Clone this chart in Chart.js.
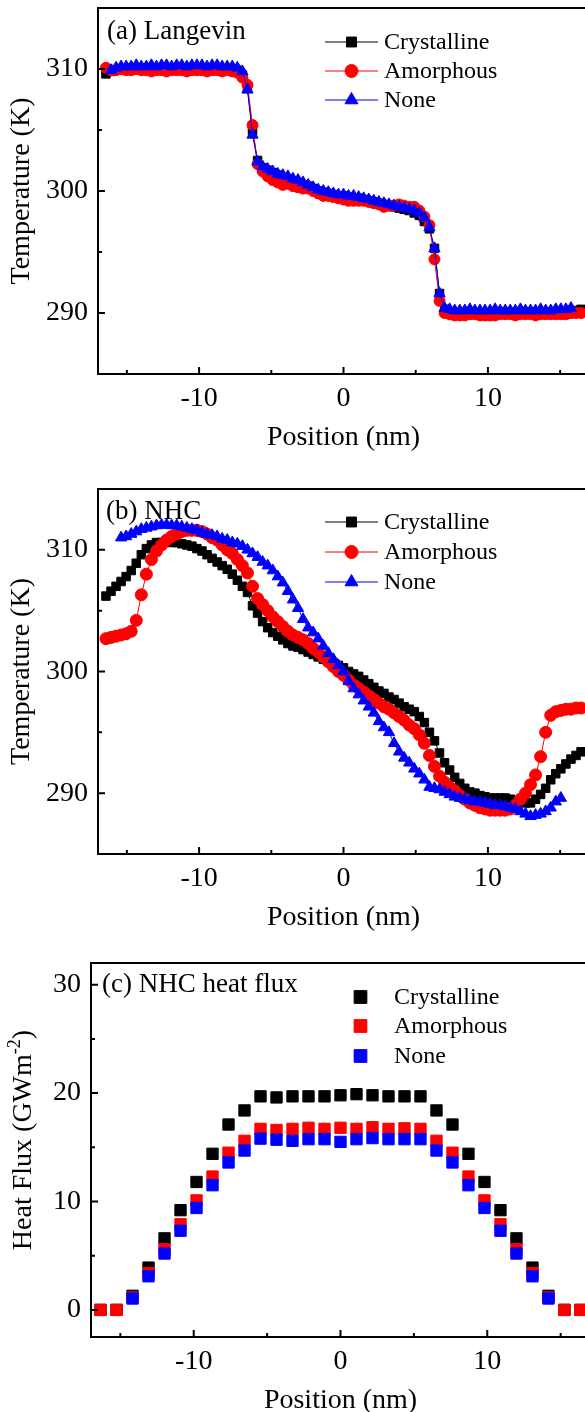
<!DOCTYPE html>
<html><head><meta charset="utf-8">
<script src="https://cdn.jsdelivr.net/npm/chart.js@4.4.1/dist/chart.umd.min.js"></script>
<style>
html,body{margin:0;padding:0;background:#fff;overflow:hidden;width:585px;height:1412px;}
#wrap{position:relative;width:585px;height:1412px;overflow:hidden;background:#fff;}
canvas{position:absolute;left:0;}
</style></head><body>
<div id="wrap">
<canvas id="ca" width="600" height="470" style="top:0px;width:600px;height:470px"></canvas>
<canvas id="cb" width="600" height="470" style="top:470px;width:600px;height:470px"></canvas>
<canvas id="cc" width="600" height="485" style="top:940px;width:600px;height:485px"></canvas>
</div>
<script>
// ---------- DATA ----------
const seriesNames = ['Crystalline', 'Amorphous', 'None'];
const positionNm = [
 -16.45,-16.10,-15.75,-15.40,-15.05,-14.70,-14.35,-14.00,-13.65,-13.30,
 -12.95,-12.60,-12.25,-11.90,-11.55,-11.20,-10.85,-10.50,-10.15,-9.80,
 -9.45,-9.10,-8.75,-8.40,-8.05,-7.70,-7.35,-7.00,-6.65,-6.30,
 -5.95,-5.60,-5.25,-4.90,-4.55,-4.20,-3.85,-3.50,-3.15,-2.80,
 -2.45,-2.10,-1.75,-1.40,-1.05,-0.70,-0.35,0.00,0.35,0.70,
 1.05,1.40,1.75,2.10,2.45,2.80,3.15,3.50,3.85,4.20,
 4.55,4.90,5.25,5.60,5.95,6.30,6.65,7.00,7.35,7.70,
 8.05,8.40,8.75,9.10,9.45,9.80,10.15,10.50,10.85,11.20,
 11.55,11.90,12.25,12.60,12.95,13.30,13.65,14.00,14.35,14.70,
 15.05,15.40,15.75,16.10,16.45];

// (a) Langevin
const langevinCrystalline = [
 309.6,309.8,309.9,310.0,310.0,310.1,310.0,310.1,310.1,310.0,
 310.1,310.1,310.0,310.1,310.1,310.1,310.0,310.1,310.1,310.1,
 310.0,310.1,310.1,310.0,310.0,310.0,309.9,309.5,308.4,304.9,
 302.5,301.9,301.7,301.5,301.3,301.1,301.0,300.8,300.7,300.5,
 300.4,300.2,300.0,299.9,299.8,299.7,299.6,299.6,299.5,299.4,
 299.4,299.3,299.2,299.1,299.0,298.9,298.8,298.7,298.6,298.5,
 298.4,298.2,298.0,297.5,296.9,295.3,291.6,290.3,290.1,290.0,
 290.0,290.0,290.1,290.0,290.0,289.9,290.0,290.0,290.0,290.1,
 290.0,290.0,290.0,290.1,290.0,290.0,290.0,290.0,290.1,290.0,
 290.0,289.9,290.1,290.2,290.3];
const langevinAmorphous = [
 310.1,309.9,309.9,310.0,309.9,309.9,310.0,309.9,309.9,309.8,
 309.9,309.9,309.8,309.9,309.9,309.9,309.8,309.9,309.9,309.9,
 309.8,309.9,309.9,309.8,309.9,309.8,309.7,309.3,308.7,305.4,
 302.2,301.6,301.2,300.9,300.7,300.5,300.6,300.4,300.3,300.2,
 300.2,300.0,299.8,299.6,299.6,299.5,299.4,299.3,299.2,299.2,
 299.2,299.2,299.1,299.0,298.9,298.7,298.8,298.8,298.9,298.8,
 298.7,298.7,298.4,297.9,297.2,294.4,291.0,290.0,289.9,289.8,
 289.8,289.8,289.9,289.9,289.8,289.8,289.8,289.8,289.9,289.9,
 289.9,289.8,289.9,289.9,289.9,289.8,289.9,289.9,289.9,289.9,
 289.9,289.9,290.0,290.0,290.0];
const langevinNone = [
 null,309.9,310.1,310.2,310.2,310.2,310.3,310.2,310.2,310.3,
 310.2,310.3,310.3,310.2,310.3,310.3,310.2,310.3,310.3,310.3,
 310.2,310.3,310.3,310.2,310.2,310.2,310.1,309.8,308.3,304.6,
 302.4,302.0,301.8,301.6,301.4,301.3,301.2,301.0,300.9,300.7,
 300.5,300.3,300.1,300.0,299.9,299.8,299.7,299.7,299.6,299.6,
 299.5,299.4,299.3,299.2,299.1,299.0,298.9,298.8,298.7,298.6,
 298.5,298.4,298.2,297.8,297.0,295.3,291.6,290.4,290.3,290.2,
 290.2,290.2,290.3,290.2,290.2,290.2,290.2,290.3,290.2,290.2,
 290.2,290.2,290.3,290.2,290.2,290.2,290.3,290.2,290.2,290.3,
 290.3,290.3,290.4,null,null];

// (b) NHC
const nhcCrystalline = [
 306.2,306.6,307.0,307.4,307.8,308.3,308.9,309.6,310.1,310.4,
 310.6,310.6,310.7,310.6,310.6,310.5,310.4,310.3,310.1,309.9,
 309.6,309.3,309.0,308.7,308.4,308.0,307.5,307.0,306.5,305.4,
 304.8,304.1,303.6,303.2,302.9,302.6,302.3,302.1,302.0,301.8,
 301.6,301.4,301.2,301.0,300.9,300.7,300.5,300.3,300.0,299.8,
 299.6,299.3,299.0,298.7,298.4,298.2,297.9,297.7,297.4,297.1,
 296.9,296.7,296.3,295.8,295.0,294.3,293.3,292.5,291.9,291.3,
 290.8,290.4,290.1,290.0,289.8,289.7,289.6,289.6,289.6,289.6,
 289.5,289.4,289.3,289.2,289.2,289.5,289.9,290.4,291.1,291.6,
 292.0,292.4,292.8,293.1,293.4];
const nhcAmorphous = [
 302.7,302.8,302.9,303.0,303.1,303.3,304.2,306.3,308.0,309.2,
 309.9,310.4,310.8,311.1,311.3,311.5,311.6,311.6,311.6,311.5,
 311.3,311.0,310.8,310.4,310.0,309.7,309.2,308.7,308.1,307.0,
 306.0,305.5,305.0,304.5,304.1,303.7,303.3,303.0,302.8,302.6,
 302.3,301.9,301.6,301.2,300.8,300.4,300.0,299.7,299.3,298.9,
 298.6,298.3,298.0,297.7,297.4,297.1,296.9,296.6,296.3,296.0,
 295.6,295.3,294.8,294.1,293.1,292.2,291.4,290.9,290.5,290.2,
 289.8,289.5,289.2,289.0,288.8,288.7,288.6,288.6,288.6,288.6,
 288.7,289.0,289.5,290.0,290.7,291.5,293.0,295.0,296.4,296.7,
 296.8,296.9,296.9,297.0,297.0];
const nhcNone = [
 null,null,null,311.0,311.1,311.3,311.5,311.7,311.8,311.9,
 312.0,312.05,312.05,312.0,312.0,311.9,311.8,311.7,311.6,311.4,
 311.3,311.2,311.1,310.9,310.8,310.6,310.5,310.3,310.0,309.7,
 309.4,309.0,308.7,308.3,307.8,307.3,306.6,305.9,305.2,304.3,
 303.6,303.2,302.7,302.1,301.5,301.0,300.5,300.0,299.2,298.6,
 298.1,297.6,297.1,296.6,295.9,295.4,295.0,294.1,293.4,292.9,
 292.5,292.0,291.6,291.1,290.5,290.4,290.3,290.1,289.9,289.7,
 289.6,289.5,289.4,289.3,289.3,289.2,289.1,289.0,289.0,288.9,
 288.8,288.7,288.5,288.3,288.1,288.2,288.3,288.5,288.8,289.3,
 289.6,null,null,null,null];

// (c) NHC heat flux
const fluxPosition = [
 -16.35,-15.26,-14.17,-13.08,-11.99,-10.90,-9.81,-8.72,-7.63,-6.54,
 -5.45,-4.36,-3.27,-2.18,-1.09,0,1.09,2.18,3.27,4.36,
 5.45,6.54,7.63,8.72,9.81,10.90,11.99,13.08,14.17,15.26,16.35];
const fluxCrystalline = [0,0,1.3,3.9,6.6,9.2,11.8,14.4,17.1,18.4,
 19.7,19.6,19.7,19.7,19.7,19.8,19.9,19.8,19.7,19.7,
 19.7,18.4,17.1,14.4,11.8,9.2,6.6,3.9,1.3,0,0];
const fluxAmorphous = [0,0,1.15,3.4,5.6,7.9,10.1,12.3,14.5,15.6,
 16.7,16.6,16.7,16.8,16.7,16.8,16.7,16.85,16.7,16.75,
 16.7,15.6,14.5,12.3,10.1,7.9,5.6,3.4,1.15,0,0];
const fluxNone = [null,null,1.05,3.1,5.2,7.3,9.4,11.5,13.6,14.7,
 15.8,15.7,15.6,15.75,15.75,15.5,15.75,15.85,15.75,15.75,
 15.75,14.7,13.6,11.5,9.4,7.3,5.2,3.1,1.05,null,null];

// ticks
const posTicks = [-10, 0, 10];
const posMinorTicks = [-15, -5, 5, 15];
const tempTicks = [290, 300, 310];
const tempMinorTicks = [295, 305];
const fluxTicks = [0, 10, 20, 30];
const fluxMinorTicks = [5, 15, 25];

// ---------- RENDER ----------
const FONT = '"Liberation Serif","Times New Roman",serif';
Chart.defaults.font.family = FONT;
Chart.defaults.color = '#000';
const colors = ['#000000', '#ff0000', '#0000ff'];
const styles = ['rect', 'circle', 'triangle'];

function pts(xs, ys) {
  return xs.map((x, i) => ({x: x, y: ys[i]})).filter(p => p.y !== null);
}

function drawMarker(ctx, style, x, y, r, color) {
  ctx.fillStyle = color; ctx.strokeStyle = color; ctx.lineWidth = 1;
  ctx.beginPath();
  if (style === 'rect') { const s = r * Math.SQRT1_2; ctx.rect(x - s, y - s, 2 * s, 2 * s); }
  else if (style === 'circle') { ctx.arc(x, y, r, 0, Math.PI * 2); }
  else {
    ctx.moveTo(x, y - r);
    ctx.lineTo(x + r * Math.sin(2 * Math.PI / 3), y - r * Math.cos(2 * Math.PI / 3));
    ctx.lineTo(x + r * Math.sin(4 * Math.PI / 3), y - r * Math.cos(4 * Math.PI / 3));
    ctx.closePath();
  }
  ctx.fill(); ctx.stroke();
}

function decor(cfg) {
  return {
    id: 'decor',
    afterDraw(chart) {
      const ctx = chart.ctx, a = chart.chartArea, sx = chart.scales.x, sy = chart.scales.y;
      ctx.save();
      ctx.strokeStyle = '#000'; ctx.lineWidth = 2;
      ctx.strokeRect(a.left, a.top, a.right - a.left, a.bottom - a.top);
      ctx.beginPath();
      cfg.xMajor.forEach(v => { const p = sx.getPixelForValue(v); ctx.moveTo(p, a.bottom); ctx.lineTo(p, a.bottom - 7); });
      cfg.xMinor.forEach(v => { const p = sx.getPixelForValue(v); ctx.moveTo(p, a.bottom); ctx.lineTo(p, a.bottom - 4); });
      cfg.yMajor.forEach(v => { const p = sy.getPixelForValue(v); ctx.moveTo(a.left, p); ctx.lineTo(a.left + 7, p); });
      cfg.yMinor.forEach(v => { const p = sy.getPixelForValue(v); ctx.moveTo(a.left, p); ctx.lineTo(a.left + 4, p); });
      ctx.stroke();
      // panel label
      ctx.fillStyle = '#000'; ctx.textAlign = 'left'; ctx.textBaseline = 'middle';
      ctx.font = '27px ' + FONT;
      ctx.fillText(cfg.label, cfg.labelX, cfg.labelY);
      // legend
      seriesNames.forEach((name, i) => {
        const y = cfg.legendRows[i];
        if (cfg.legendType === 'line') {
          ctx.strokeStyle = colors[i]; ctx.lineWidth = 1;
          ctx.beginPath(); ctx.moveTo(325, y); ctx.lineTo(378, y); ctx.stroke();
          drawMarker(ctx, styles[i], 351.5, y, i === 0 ? 7 : (i === 1 ? 6.5 : 7.5), colors[i]);
          ctx.fillStyle = '#000'; ctx.font = '24px ' + FONT;
          ctx.fillText(name, 384, y + 1);
        } else {
          drawMarker(ctx, 'rect', 360.5, y, 9, colors[i]);
          ctx.fillStyle = '#000'; ctx.font = '24px ' + FONT;
          ctx.fillText(name, 394, y + 1);
        }
      });
      // custom y title (for superscript)
      if (cfg.yTitleParts) {
        ctx.save();
        ctx.translate(cfg.yTitleX, cfg.yTitleY);
        ctx.rotate(-Math.PI / 2);
        ctx.fillStyle = '#000'; ctx.textBaseline = 'middle'; ctx.textAlign = 'left';
        let total = 0;
        cfg.yTitleParts.forEach(p => { ctx.font = p.size + 'px ' + FONT; total += ctx.measureText(p.t).width; });
        let x = -total / 2;
        cfg.yTitleParts.forEach(p => { ctx.font = p.size + 'px ' + FONT; ctx.fillText(p.t, x, p.dy); x += ctx.measureText(p.t).width; });
        ctx.restore();
      }
      ctx.restore();
    }
  };
}

function makeChart(id, o) {
  const datasets = o.series.map((ys, i) => ({
    label: seriesNames[i],
    data: pts(o.xs, ys),
    showLine: o.showLine,
    borderColor: colors[i],
    backgroundColor: colors[i],
    borderWidth: 1,
    pointStyle: o.pointStyles ? o.pointStyles[i] : 'rect',
    pointRadius: o.radii[i],
    pointBorderWidth: 1,
    pointBackgroundColor: colors[i],
    pointBorderColor: colors[i],
    order: 3 - i
  }));
  return new Chart(document.getElementById(id), {
    type: 'scatter',
    data: {datasets: datasets},
    options: {
      responsive: false, animation: false, devicePixelRatio: 1,
      layout: {padding: {top: o.padTop, right: o.padRight, bottom: o.padBottom, left: 0}},
      plugins: {legend: {display: false}, tooltip: {enabled: false}},
      scales: {
        x: {
          type: 'linear', min: -17, max: 17,
          afterFit: s => { s.height = 84; s.paddingLeft = 0; s.paddingRight = 0; },
          afterBuildTicks: s => { s.ticks = posTicks.map(v => ({value: v})); },
          grid: {display: false, drawTicks: false}, border: {display: false},
          ticks: {font: {size: 28}, color: '#000', padding: 8, maxRotation: 0, autoSkip: false, callback: v => String(v)},
          title: {display: true, text: 'Position (nm)', font: {size: 28}, color: '#000', padding: {top: 4, bottom: 4}}
        },
        y: {
          type: 'linear', min: o.yMin, max: o.yMax,
          afterFit: s => { s.width = o.yWidth; s.paddingTop = 0; s.paddingBottom = 0; },
          afterBuildTicks: s => { s.ticks = o.yTicks.map(v => ({value: v})); },
          grid: {display: false, drawTicks: false}, border: {display: false},
          ticks: {font: {size: 28}, color: '#000', padding: 10, autoSkip: false, callback: v => String(v)},
          title: {display: !!o.yTitle, text: o.yTitle || '', font: {size: 28}, color: '#000', padding: {top: 5, bottom: 4}}
        }
      }
    },
    plugins: [decor(o.decor)]
  });
}

makeChart('ca', {
  xs: positionNm, series: [langevinCrystalline, langevinAmorphous, langevinNone],
  showLine: true, pointStyles: styles, radii: [6, 5.5, 6.5],
  padTop: 8, padRight: 11, padBottom: 12, yWidth: 98,
  yMin: 285, yMax: 315, yTicks: tempTicks, yTitle: 'Temperature (K)',
  decor: {xMajor: posTicks, xMinor: posMinorTicks, yMajor: tempTicks, yMinor: tempMinorTicks,
    label: '(a) Langevin', labelX: 107, labelY: 32, legendType: 'line', legendRows: [42, 71, 100]}
});
makeChart('cb', {
  xs: positionNm, series: [nhcCrystalline, nhcAmorphous, nhcNone],
  showLine: true, pointStyles: styles, radii: [6, 6, 6.5],
  padTop: 19, padRight: 11, padBottom: 2, yWidth: 98,
  yMin: 285, yMax: 315, yTicks: tempTicks, yTitle: 'Temperature (K)',
  decor: {xMajor: posTicks, xMinor: posMinorTicks, yMajor: tempTicks, yMinor: tempMinorTicks,
    label: '(b) NHC', labelX: 106, labelY: 42, legendType: 'line', legendRows: [52, 82, 112]}
});
makeChart('cc', {
  xs: fluxPosition, series: [fluxCrystalline, fluxAmorphous, fluxNone],
  showLine: false, pointStyles: ['rect', 'rect', 'rect'], radii: [8, 8, 8],
  padTop: 23, padRight: 10, padBottom: 4, yWidth: 91,
  yMin: -2.5, yMax: 32, yTicks: fluxTicks, yTitle: null,
  decor: {xMajor: posTicks, xMinor: posMinorTicks, yMajor: fluxTicks, yMinor: fluxMinorTicks,
    label: '(c) NHC heat flux', labelX: 102, labelY: 45, legendType: 'square', legendRows: [57, 86, 116],
    yTitleX: 24, yTitleY: 200,
    yTitleParts: [{t: 'Heat Flux (GWm', size: 28, dy: 0}, {t: '-2', size: 18, dy: -9}, {t: ')', size: 28, dy: 0}]}
});
</script>
</body></html>
